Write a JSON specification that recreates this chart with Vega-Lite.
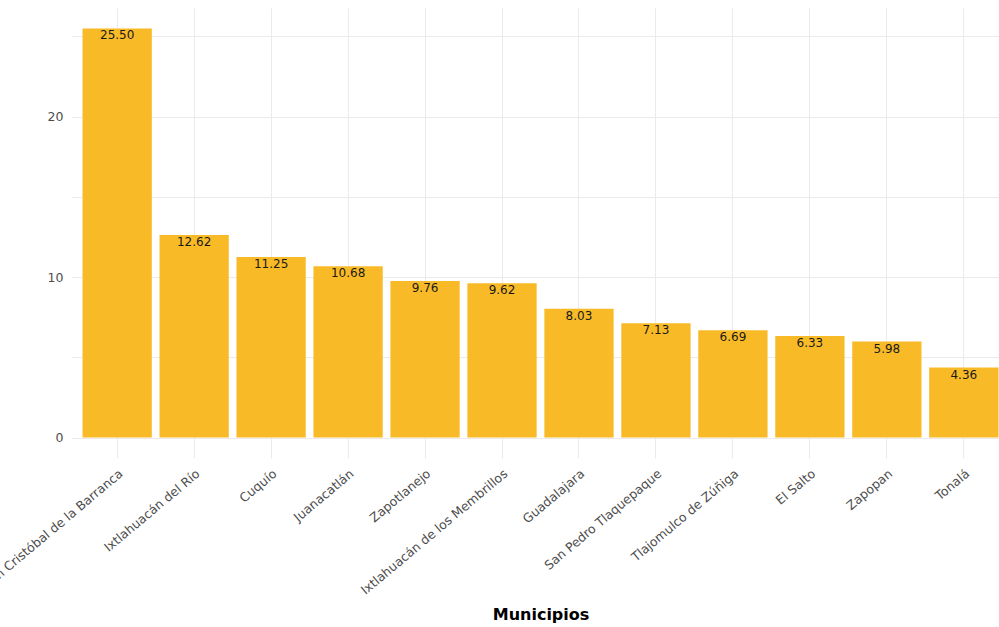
{
  "$schema": "https://vega.github.io/schema/vega-lite/v6.json",
  "autosize": "none",
  "padding": {"left": 71, "top": 8, "right": 0, "bottom": 169},
  "width": 939,
  "height": 450,
  "background": "white",
  "data": {"values": [
    {"municipio": "San Cristóbal de la Barranca", "valor": 25.50},
    {"municipio": "Ixtlahuacán del Río", "valor": 12.62},
    {"municipio": "Cuquío", "valor": 11.25},
    {"municipio": "Juanacatlán", "valor": 10.68},
    {"municipio": "Zapotlanejo", "valor": 9.76},
    {"municipio": "Ixtlahuacán de los Membrillos", "valor": 9.62},
    {"municipio": "Guadalajara", "valor": 8.03},
    {"municipio": "San Pedro Tlaquepaque", "valor": 7.13},
    {"municipio": "Tlajomulco de Zúñiga", "valor": 6.69},
    {"municipio": "El Salto", "valor": 6.33},
    {"municipio": "Zapopan", "valor": 5.98},
    {"municipio": "Tonalá", "valor": 4.36}
  ]},
  "config": {
    "view": {"stroke": null},
    "font": "DejaVu Sans"
  },
  "encoding": {
    "x": {
      "field": "municipio", "type": "nominal", "sort": null,
      "scale": {"paddingInner": 0.1, "paddingOuter": 0.15},
      "axis": {
        "title": "Municipios", "titleFontSize": 16, "titleFontWeight": "bold", "titleColor": "#000000",
        "titleBaseline": "middle", "titleY": 156, "titleX": 469.5,
        "labelAngle": -40, "labelAlign": "right", "labelBaseline": "top",
        "labelFontSize": 12.5, "labelColor": "#4d4d4d", "labelPadding": 9, "labelLimit": 400,
        "ticks": false, "domain": false, "grid": true, "bandPosition": 0.5,
        "gridColor": "#ebebeb", "gridWidth": 1
      }
    },
    "y": {
      "field": "valor", "type": "quantitative",
      "scale": {"domain": [-1.275, 26.775], "nice": false, "zero": false},
      "axis": {
        "title": null, "values": [0, 5, 10, 15, 20, 25],
        "labelExpr": "datum.value % 10 == 0 ? datum.label : ''",
        "labelFontSize": 12.5, "labelColor": "#4d4d4d", "labelPadding": 8,
        "ticks": false, "domain": false, "grid": true,
        "gridColor": "#ebebeb", "gridWidth": 1
      }
    }
  },
  "layer": [
    {"mark": {"type": "bar", "color": "#F9BA27"}},
    {
      "mark": {"type": "text", "baseline": "top", "dy": 2, "fontSize": 12, "color": "#1a1a1a"},
      "encoding": {"text": {"field": "valor", "type": "quantitative", "format": ".2f"}}
    }
  ]
}
